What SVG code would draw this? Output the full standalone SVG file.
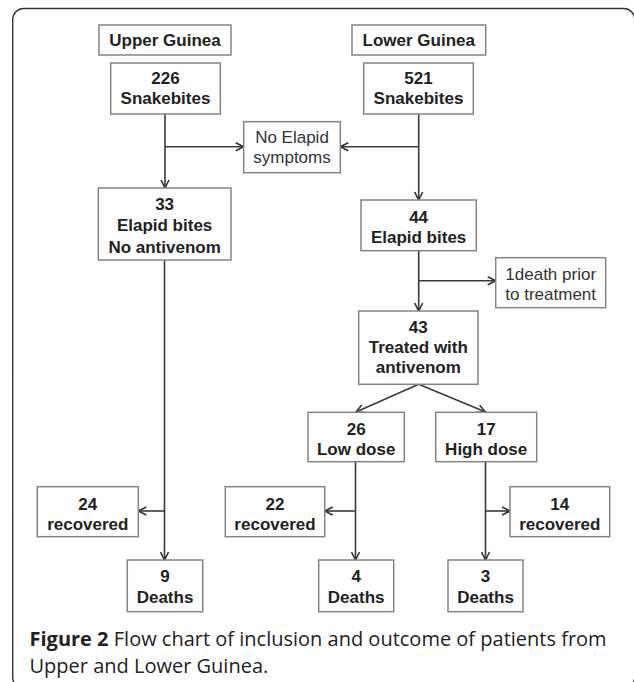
<svg xmlns="http://www.w3.org/2000/svg" width="634" height="682" viewBox="0 0 634 682">
<defs>
<marker id="arr" viewBox="0 0 10 10" refX="9" refY="5" markerWidth="10" markerHeight="10" markerUnits="userSpaceOnUse" orient="auto">
<path d="M1,1 L9,5 L1,9" fill="none" stroke="#333" stroke-width="1.6"/>
</marker>
<style>
.box{fill:#fff;stroke:#858585;stroke-width:1.5}
.b{font-family:"Liberation Sans",Arial,sans-serif;font-size:17px;font-weight:bold;fill:#222;text-anchor:middle}
.r{font-family:"Liberation Sans",Arial,sans-serif;font-size:17px;fill:#333;text-anchor:middle}
.c{fill:none;stroke:#3a3a3a;stroke-width:1.6}
.ca{fill:none;stroke:#3a3a3a;stroke-width:1.6;marker-end:url(#arr)}
.cap{font-family:"Open Sans","Noto Sans",sans-serif;font-size:20px;fill:#222}
</style>
</defs>
<rect x="12.7" y="8.5" width="622" height="680" rx="11" fill="#fff" stroke="#333" stroke-width="1.4"/>
<g id="connectors">
<line class="ca" x1="165" y1="114" x2="165" y2="188"/>
<line class="ca" x1="165" y1="146.7" x2="243.7" y2="146.7"/>
<line class="ca" x1="418.7" y1="114" x2="418.7" y2="200"/>
<line class="ca" x1="418.7" y1="146.7" x2="340.3" y2="146.7"/>
<line class="ca" x1="418.7" y1="251" x2="418.7" y2="311"/>
<line class="ca" x1="418.7" y1="280.7" x2="495.7" y2="280.7"/>
<line class="ca" x1="418.7" y1="384.3" x2="356" y2="412"/>
<line class="ca" x1="418.7" y1="384.3" x2="485.5" y2="412"/>
<line class="ca" x1="164.5" y1="260" x2="164.5" y2="560"/>
<line class="ca" x1="164.5" y1="511" x2="138.3" y2="511"/>
<line class="ca" x1="355.5" y1="461.7" x2="355.5" y2="560"/>
<line class="ca" x1="355.5" y1="511" x2="324.7" y2="511"/>
<line class="ca" x1="485.5" y1="461.7" x2="485.5" y2="560"/>
<line class="ca" x1="485.5" y1="511" x2="510" y2="511"/>
</g>
<g id="upper-guinea"><rect class="box" x="99" y="25" width="132" height="30"/><text class="b" x="165" y="46">Upper Guinea</text></g>
<g id="lower-guinea"><rect class="box" x="352" y="25" width="133.7" height="30"/><text class="b" x="418.8" y="46">Lower Guinea</text></g>
<g id="snakebites-226"><rect class="box" x="110.7" y="63" width="109.6" height="51"/><text class="b" x="165.5" y="84">226</text><text class="b" x="165.5" y="104">Snakebites</text></g>
<g id="snakebites-521"><rect class="box" x="363.7" y="63" width="109.6" height="51"/><text class="b" x="418.5" y="84">521</text><text class="b" x="418.5" y="104">Snakebites</text></g>
<g id="no-elapid"><rect class="box" x="243.7" y="121.7" width="96.6" height="51"/><text class="r" x="292" y="142.7">No Elapid</text><text class="r" x="292" y="162.5">symptoms</text></g>
<g id="elapid-33"><rect class="box" x="98.3" y="188" width="132.7" height="72"/><text class="b" x="164.6" y="209.5">33</text><text class="b" x="164.6" y="231">Elapid bites</text><text class="b" x="164.6" y="252.5">No antivenom</text></g>
<g id="elapid-44"><rect class="box" x="361" y="200" width="115.3" height="50.7"/><text class="b" x="418.6" y="222.5">44</text><text class="b" x="418.6" y="243">Elapid bites</text></g>
<g id="death-prior"><rect class="box" x="495.7" y="257.7" width="110" height="50"/><text class="r" x="550.7" y="279.5">1death prior</text><text class="r" x="550.7" y="299.5">to treatment</text></g>
<g id="treated-43"><rect class="box" x="358.7" y="311" width="119.3" height="73.3"/><text class="b" x="418.3" y="332.7">43</text><text class="b" x="418.3" y="352.7">Treated with</text><text class="b" x="418.3" y="373">antivenom</text></g>
<g id="low-dose"><rect class="box" x="308" y="412.3" width="96.3" height="49.4"/><text class="b" x="356.2" y="434.5">26</text><text class="b" x="356.2" y="454.5">Low dose</text></g>
<g id="high-dose"><rect class="box" x="435.7" y="412.3" width="101" height="49.4"/><text class="b" x="486.2" y="434.5">17</text><text class="b" x="486.2" y="454.5">High dose</text></g>
<g id="recovered-24"><rect class="box" x="37.3" y="486.7" width="101" height="50"/><text class="b" x="87.8" y="509.5">24</text><text class="b" x="87.8" y="529.5">recovered</text></g>
<g id="recovered-22"><rect class="box" x="225.3" y="486.7" width="99.4" height="50"/><text class="b" x="275" y="509.5">22</text><text class="b" x="275" y="529.5">recovered</text></g>
<g id="recovered-14"><rect class="box" x="510" y="486.7" width="99.7" height="50"/><text class="b" x="559.8" y="509.5">14</text><text class="b" x="559.8" y="529.5">recovered</text></g>
<g id="deaths-9"><rect class="box" x="127.3" y="560" width="75.4" height="51.7"/><text class="b" x="165" y="582">9</text><text class="b" x="165" y="602.5">Deaths</text></g>
<g id="deaths-4"><rect class="box" x="318.7" y="560" width="75" height="51.7"/><text class="b" x="356.2" y="582">4</text><text class="b" x="356.2" y="602.5">Deaths</text></g>
<g id="deaths-3"><rect class="box" x="448" y="560" width="75" height="51.7"/><text class="b" x="485.5" y="582">3</text><text class="b" x="485.5" y="602.5">Deaths</text></g>
<text class="cap" x="29.5" y="646"><tspan font-weight="bold">Figure 2</tspan> Flow chart of inclusion and outcome of patients from</text>
<text class="cap" x="29.5" y="673">Upper and Lower Guinea.</text>
</svg>
